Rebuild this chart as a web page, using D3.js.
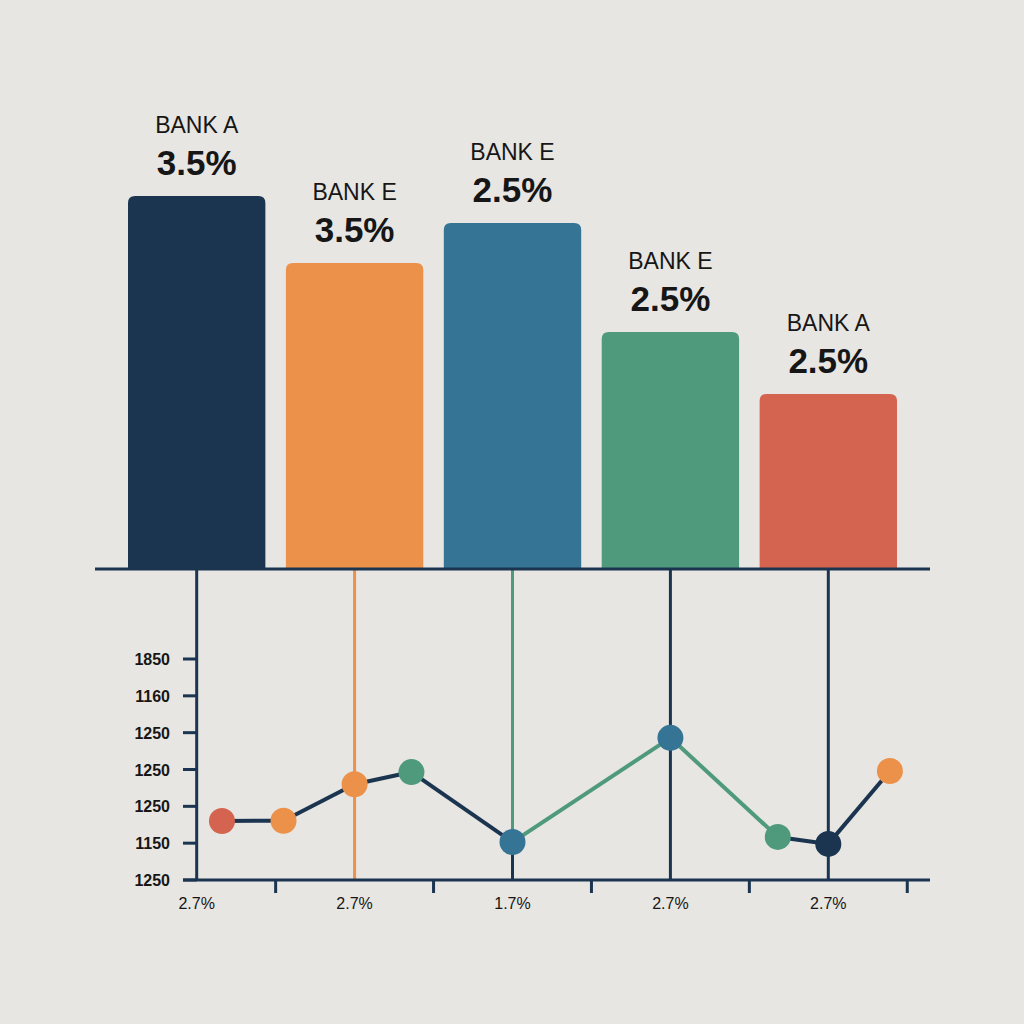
<!DOCTYPE html>
<html>
<head>
<meta charset="utf-8">
<script src="https://cdn.jsdelivr.net/npm/d3@7"></script>
<style>
  html, body { margin: 0; padding: 0; background: #e8e6e2; }
  svg { display: block; font-family: "Liberation Sans", Arial, sans-serif; }
</style>
</head>
<body>
<svg id="chart" width="1024" height="1024"></svg>
<script>
// top bars
var banks = ["BANK A", "BANK E", "BANK E", "BANK E", "BANK A"];
var bankPct = ["3.5%", "3.5%", "2.5%", "2.5%", "2.5%"];
var barValues = [3.73, 3.06, 3.46, 2.37, 1.75];
var barColors = ["#1b3550", "#ec914a", "#357494", "#4f9a7c", "#d4644f"];

// lower line panel
var xLabels = ["2.7%", "2.7%", "1.7%", "2.7%", "2.7%"];
var yLabels = ["1250", "1150", "1250", "1250", "1250", "1160", "1850"];
var lineX = [0.16, 0.55, 1.0, 1.36, 2.0, 3.0, 3.68, 4.0, 4.39];
var lineY = [1.6, 1.61, 2.6, 2.93, 1.03, 3.86, 1.17, 0.98, 2.96];
var pointColors = ["#d4644f", "#ec914a", "#ec914a", "#4f9a7c", "#357494", "#357494", "#4f9a7c", "#1b3550", "#ec914a"];
var segColors = ["#1b3550", "#1b3550", "#1b3550", "#1b3550", "#4f9a7c", "#4f9a7c", "#1b3550", "#1b3550"];
var stemColors = ["#1b3550", "#ec914a", "#4f9a7c", "#1b3550", "#1b3550"];

var navy = "#1b3550";
var svg = d3.select("#chart");
svg.append("rect").attr("width", 1024).attr("height", 1024).attr("fill", "#e8e6e2");

var base = 569, bottom = 880;

var x = d3.scaleBand()
    .domain(d3.range(banks.length))
    .range([128, 897])
    .paddingInner(0.13)
    .paddingOuter(0);

var y = d3.scaleLinear().domain([0, 4]).range([base, base - 400]);

function cx(i) { return x(i) + x.bandwidth() / 2; }

// continuous x for the lower panel, in band units
var xl = d3.scaleLinear().domain([0, 4]).range([cx(0), cx(4)]);
var yl = d3.scaleLinear().domain([0, 6]).range([bottom, 659]);

// bars with rounded tops
function topRounded(x0, y0, w, h, r) {
  return "M" + x0 + "," + (y0 + h) +
    "V" + (y0 + r) +
    "Q" + x0 + "," + y0 + " " + (x0 + r) + "," + y0 +
    "H" + (x0 + w - r) +
    "Q" + (x0 + w) + "," + y0 + " " + (x0 + w) + "," + (y0 + r) +
    "V" + (y0 + h) + "Z";
}

svg.selectAll(".bar")
  .data(barValues)
  .enter()
  .append("path")
  .attr("class", "bar")
  .attr("fill", function(d, i) { return barColors[i]; })
  .attr("d", function(d, i) {
    return topRounded(x(i), y(d), x.bandwidth(), base - y(d), 7);
  });

svg.selectAll(".bankName")
  .data(banks)
  .enter()
  .append("text")
  .attr("x", function(d, i) { return cx(i); })
  .attr("y", function(d, i) { return y(barValues[i]) - 63; })
  .attr("text-anchor", "middle")
  .attr("font-size", 23)
  .attr("fill", "#161616")
  .text(function(d) { return d; });

svg.selectAll(".bankPct")
  .data(bankPct)
  .enter()
  .append("text")
  .attr("x", function(d, i) { return cx(i); })
  .attr("y", function(d, i) { return y(barValues[i]) - 21; })
  .attr("text-anchor", "middle")
  .attr("font-size", 35)
  .attr("font-weight", "bold")
  .attr("fill", "#161616")
  .text(function(d) { return d; });

// stems from bar centres down to lower axis
svg.selectAll(".stem")
  .data(stemColors)
  .enter()
  .append("line")
  .attr("x1", function(d, i) { return cx(i); })
  .attr("x2", function(d, i) { return cx(i); })
  .attr("y1", base)
  .attr("y2", bottom)
  .attr("stroke", function(d) { return d; })
  .attr("stroke-width", 3);

// navy piece under the blue point on the third stem
svg.append("line")
  .attr("x1", cx(2)).attr("x2", cx(2))
  .attr("y1", yl(lineY[4])).attr("y2", bottom)
  .attr("stroke", navy).attr("stroke-width", 3);

// baseline under bars
svg.append("line")
  .attr("x1", 95).attr("x2", 930)
  .attr("y1", base).attr("y2", base)
  .attr("stroke", navy).attr("stroke-width", 3);

// lower axis
svg.append("line")
  .attr("x1", 183).attr("x2", 930)
  .attr("y1", bottom).attr("y2", bottom)
  .attr("stroke", navy).attr("stroke-width", 3);

// bottom ticks at band boundaries
svg.selectAll(".xtick")
  .data(d3.range(1, 6))
  .enter()
  .append("line")
  .attr("x1", function(d) { return xl(d - 0.5); })
  .attr("x2", function(d) { return xl(d - 0.5); })
  .attr("y1", bottom)
  .attr("y2", bottom + 13)
  .attr("stroke", navy)
  .attr("stroke-width", 3);

svg.selectAll(".xlab")
  .data(xLabels)
  .enter()
  .append("text")
  .attr("x", function(d, i) { return cx(i); })
  .attr("y", bottom + 29)
  .attr("text-anchor", "middle")
  .attr("font-size", 16)
  .attr("fill", "#161616")
  .text(function(d) { return d; });

// left ticks
svg.selectAll(".ytick")
  .data(yLabels)
  .enter()
  .append("line")
  .attr("x1", 183)
  .attr("x2", cx(0))
  .attr("y1", function(d, i) { return yl(i); })
  .attr("y2", function(d, i) { return yl(i); })
  .attr("stroke", navy)
  .attr("stroke-width", 3);

svg.selectAll(".ylab")
  .data(yLabels)
  .enter()
  .append("text")
  .attr("x", 170)
  .attr("y", function(d, i) { return yl(i) + 6; })
  .attr("text-anchor", "end")
  .attr("font-size", 16)
  .attr("font-weight", "bold")
  .attr("fill", "#161616")
  .text(function(d) { return d; });

// line segments
var pts = lineX.map(function(d, i) { return [xl(d), yl(lineY[i])]; });
svg.selectAll(".seg")
  .data(segColors)
  .enter()
  .append("line")
  .attr("x1", function(d, i) { return pts[i][0]; })
  .attr("y1", function(d, i) { return pts[i][1]; })
  .attr("x2", function(d, i) { return pts[i + 1][0]; })
  .attr("y2", function(d, i) { return pts[i + 1][1]; })
  .attr("stroke", function(d) { return d; })
  .attr("stroke-width", 4);

svg.selectAll(".pt")
  .data(pts)
  .enter()
  .append("circle")
  .attr("cx", function(d) { return d[0]; })
  .attr("cy", function(d) { return d[1]; })
  .attr("r", 13)
  .attr("fill", function(d, i) { return pointColors[i]; });
</script>
</body>
</html>
